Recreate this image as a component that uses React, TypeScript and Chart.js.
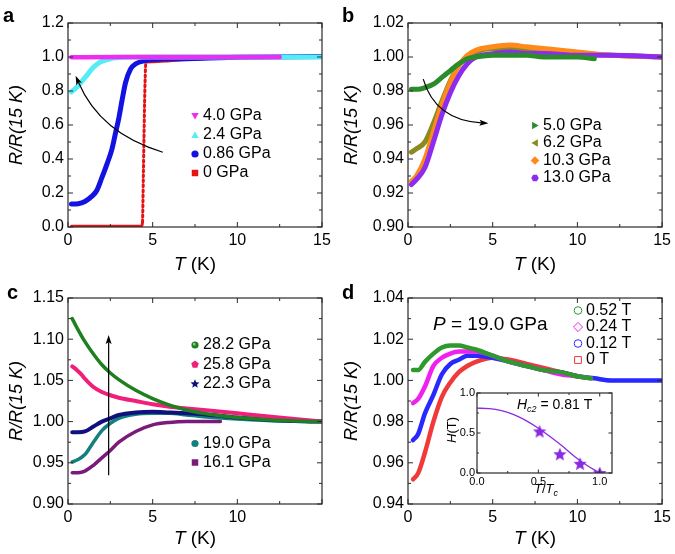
import React, { useEffect, useRef } from 'react';
import { Chart, registerables } from 'chart.js';

Chart.register(...registerables);

const FAMILY = "'Liberation Sans', Arial, Helvetica, sans-serif";
Chart.defaults.font.family = FAMILY;

type Pt = [number, number];

/* ---------------- panel a data ---------------- */
const a_4_0: Pt[] = [[0.2, 0.998], [1, 0.999], [3, 1.0], [6, 1.0], [9, 1.0], [12.5, 1.0]];
const a_2_4: Pt[] = [[0.2, 0.795], [0.5, 0.82], [0.8, 0.855], [1.1, 0.89], [1.5, 0.94], [1.9, 0.97], [2.5, 0.99], [3.3, 0.998], [5, 1.0], [10, 1.0], [15, 1.0]];
const a_0_86: Pt[] = [[0.2, 0.135], [0.6, 0.137], [1.0, 0.15], [1.4, 0.18], [1.7, 0.215], [2.0, 0.29], [2.3, 0.37], [2.6, 0.46], [2.8, 0.55], [3.0, 0.64], [3.2, 0.75], [3.4, 0.85], [3.7, 0.93], [4.0, 0.96], [4.5, 0.978], [5, 0.985], [7, 0.99], [10, 0.998], [15, 1.003]];
const a_0: Pt[] = [[0.2, 0.005], [2, 0.005], [4.35, 0.005], [4.4, 0.03], [4.45, 0.3], [4.5, 0.6], [4.55, 0.85], [4.6, 0.97], [5, 0.972], [6, 0.978], [7, 0.985], [8, 0.99], [10, 0.997], [15, 1.0]];
const aXTicks = [0, 5, 10, 15];
const aXMinor = [2.5, 7.5, 12.5];
const aYTicks = [0, 0.2, 0.4, 0.6, 0.8, 1.0, 1.2];
const aYMinor = [0.1, 0.3, 0.5, 0.7, 0.9, 1.1];

/* ---------------- panel b data ---------------- */
const b_5_0: Pt[] = [[0.2, 0.981], [0.6, 0.981], [1.0, 0.982], [1.5, 0.984], [2.0, 0.988], [2.5, 0.992], [3.0, 0.996], [3.5, 0.999], [4.0, 1.0], [5, 1.001], [6, 1.001], [7, 1.001], [8, 1.0], [9, 1.0], [10, 1.0], [11, 0.999]];
const b_6_2: Pt[] = [[0.2, 0.944], [0.5, 0.946], [1.0, 0.95], [1.5, 0.961], [2.0, 0.974], [2.5, 0.986], [3.0, 0.995], [3.5, 1.0], [4.0, 1.003], [5, 1.005], [6, 1.005], [7, 1.004], [8, 1.003], [10, 1.002], [12, 1.001], [15, 1.0]];
const b_10_3: Pt[] = [[0.2, 0.927], [0.5, 0.93], [1.0, 0.94], [1.5, 0.956], [2.0, 0.972], [2.5, 0.985], [3.0, 0.995], [3.5, 1.001], [4.0, 1.004], [5, 1.006], [6, 1.007], [7, 1.006], [8, 1.005], [10, 1.003], [12, 1.001], [15, 1.0]];
const b_13_0: Pt[] = [[0.2, 0.925], [0.5, 0.928], [1.0, 0.935], [1.5, 0.95], [2.0, 0.966], [2.5, 0.979], [3.0, 0.989], [3.5, 0.996], [4.0, 1.0], [5, 1.002], [6, 1.003], [7, 1.002], [8, 1.002], [10, 1.001], [12, 1.001], [15, 1.0]];
const bXTicks = [0, 5, 10, 15];
const bXMinor = [2.5, 7.5, 12.5];
const bYTicks = [0.9, 0.92, 0.94, 0.96, 0.98, 1.0, 1.02];
const bYMinor = [0.91, 0.93, 0.95, 0.97, 0.99, 1.01];

/* ---------------- panel c data ---------------- */
const c_28_2: Pt[] = [[0.25, 1.125], [0.5, 1.115], [1.0, 1.097], [1.5, 1.082], [2.0, 1.069], [2.5, 1.059], [3, 1.051], [4, 1.038], [5, 1.028], [6, 1.02], [7, 1.014], [8, 1.01], [9, 1.007], [10, 1.005], [12, 1.002], [15, 1.0]];
const c_25_8: Pt[] = [[0.25, 1.067], [0.5, 1.063], [0.8, 1.057], [1.0, 1.052], [1.5, 1.042], [2.0, 1.036], [2.5, 1.032], [3, 1.029], [4, 1.025], [5, 1.021], [6, 1.018], [7, 1.016], [8, 1.014], [10, 1.01], [12, 1.006], [15, 1.0]];
const c_22_3: Pt[] = [[0.25, 0.987], [0.6, 0.987], [1.0, 0.988], [1.5, 0.994], [2.0, 1.0], [2.5, 1.004], [3, 1.008], [4, 1.011], [5, 1.012], [6, 1.011], [7, 1.01], [8, 1.009], [9, 1.007], [10, 1.005], [12, 1.002], [15, 1.0]];
const c_19_0: Pt[] = [[0.25, 0.951], [0.5, 0.953], [1.0, 0.96], [1.5, 0.975], [2.0, 0.989], [2.5, 0.998], [3, 1.004], [4, 1.009], [5, 1.01], [6, 1.01], [7, 1.008], [8, 1.006], [10, 1.003], [12, 1.001], [15, 1.0]];
const c_16_1: Pt[] = [[0.25, 0.938], [0.6, 0.938], [1.0, 0.94], [1.5, 0.947], [2.0, 0.956], [2.5, 0.965], [3, 0.975], [4, 0.988], [5, 0.996], [6, 0.999], [7, 1.0], [9, 1.0]];
const cXTicks = [0, 5, 10, 15];
const cXMinor = [2.5, 7.5, 12.5];
const cYTicks = [0.9, 0.95, 1.0, 1.05, 1.1, 1.15];
const cYMinor = [0.925, 0.975, 1.025, 1.075, 1.125];

/* ---------------- panel d data ---------------- */
const d_0_52: Pt[] = [[0.3, 1.005], [0.6, 1.005], [1.0, 1.009], [1.5, 1.013], [2.0, 1.016], [2.5, 1.017], [3, 1.017], [3.5, 1.016], [4, 1.015], [5, 1.012], [6, 1.009], [7, 1.007], [8, 1.005], [9, 1.004], [10, 1.002], [10.8, 1.001]];
const d_0_24: Pt[] = [[0.3, 0.989], [0.6, 0.991], [1.0, 0.997], [1.5, 1.007], [2.0, 1.011], [2.5, 1.013], [3, 1.014], [4, 1.014], [5, 1.012], [6, 1.009], [7, 1.007], [8, 1.005], [9, 1.003], [10, 1.002], [10.8, 1.001]];
const d_0_12: Pt[] = [[0.3, 0.971], [0.6, 0.974], [1.0, 0.984], [1.5, 0.993], [2.0, 1.003], [2.5, 1.008], [3, 1.01], [3.5, 1.012], [4, 1.012], [5, 1.011], [6, 1.009], [7, 1.007], [8, 1.005], [9, 1.004], [10, 1.002], [11, 1.001], [12, 1.0], [15, 1.0]];
const d_0: Pt[] = [[0.3, 0.952], [0.6, 0.955], [1.0, 0.965], [1.5, 0.98], [2.0, 0.992], [2.5, 0.999], [3, 1.004], [3.5, 1.007], [4, 1.009], [5, 1.011], [6, 1.01], [7, 1.008], [8, 1.006], [9, 1.004], [10, 1.002]];
const dXTicks = [0, 5, 10, 15];
const dXMinor = [2.5, 7.5, 12.5];
const dYTicks = [0.94, 0.96, 0.98, 1.0, 1.02, 1.04];
const dYMinor = [0.95, 0.97, 0.99, 1.01, 1.03];

/* ---------------- inset data ---------------- */
const insetFit: Pt[] = [[0, 0.81], [0.1, 0.805], [0.2, 0.78], [0.3, 0.73], [0.4, 0.655], [0.5, 0.56], [0.6, 0.45], [0.7, 0.33], [0.8, 0.2], [0.9, 0.09], [1.0, 0.0], [1.04, -0.04]];
const insetStars: Pt[] = [[0.51, 0.52], [0.675, 0.235], [0.84, 0.115], [1.0, 0.0]];
const insetXTicks = [0, 0.5, 1.0];
const insetXMinor = [0.25, 0.75];
const insetYTicks = [0, 0.5, 1.0];
const insetYMinor = [0.25, 0.75];

/* ---------------- drawing helpers ---------------- */
type Run = { t: string; i?: boolean; b?: boolean; s: number; dy?: number };
const fontOf = (r: Run) => `${r.i ? 'italic ' : ''}${r.b ? 'bold ' : ''}${r.s}px ${FAMILY}`;

function drawRuns(ctx: CanvasRenderingContext2D, runs: Run[], x: number, y: number, align: 'left' | 'center', rot = 0, color = '#000') {
  ctx.save();
  ctx.translate(x, y);
  if (rot) ctx.rotate(rot);
  ctx.fillStyle = color;
  ctx.textBaseline = 'middle';
  ctx.textAlign = 'left';
  const widths = runs.map((r) => { ctx.font = fontOf(r); return ctx.measureText(r.t).width; });
  const total = widths.reduce((p, q) => p + q, 0);
  let cx = align === 'left' ? 0 : -total / 2;
  runs.forEach((r, k) => { ctx.font = fontOf(r); ctx.fillText(r.t, cx, r.dy || 0); cx += widths[k]; });
  ctx.restore();
}

function poly(ctx: CanvasRenderingContext2D, x: number, y: number, r: number, n: number, start: number, inner = 0) {
  const m = inner ? n * 2 : n;
  for (let k = 0; k < m; k++) {
    const ang = (start + (360 / m) * k) * Math.PI / 180;
    const rr = inner && k % 2 === 1 ? r * inner : r;
    const px = x + rr * Math.cos(ang), py = y + rr * Math.sin(ang);
    if (k === 0) ctx.moveTo(px, py); else ctx.lineTo(px, py);
  }
  ctx.closePath();
}

function drawMarker(ctx: CanvasRenderingContext2D, shape: string, x: number, y: number, r: number, color: string, hollow = false) {
  ctx.save();
  ctx.beginPath();
  switch (shape) {
    case 'circle': case 'sphere': ctx.arc(x, y, r, 0, Math.PI * 2); break;
    case 'square': ctx.rect(x - r * 0.9, y - r * 0.9, r * 1.8, r * 1.8); break;
    case 'diamond': poly(ctx, x, y, r * 1.2, 4, -90); break;
    case 'triUp': poly(ctx, x, y + r * 0.2, r * 1.2, 3, -90); break;
    case 'triDown': poly(ctx, x, y - r * 0.2, r * 1.2, 3, 90); break;
    case 'triRight': poly(ctx, x - r * 0.2, y, r * 1.2, 3, 0); break;
    case 'triLeft': poly(ctx, x + r * 0.2, y, r * 1.2, 3, 180); break;
    case 'hexagon': poly(ctx, x, y, r * 1.05, 6, 0); break;
    case 'pentagon': poly(ctx, x, y, r * 1.1, 5, -90); break;
    case 'star': poly(ctx, x, y, r * 1.3, 5, -90, 0.45); break;
  }
  if (hollow) {
    ctx.lineWidth = 1;
    ctx.strokeStyle = color;
    ctx.stroke();
  } else if (shape === 'sphere') {
    const g = ctx.createRadialGradient(x - r * 0.35, y - r * 0.35, 0, x, y, r);
    g.addColorStop(0, '#d8f0d8');
    g.addColorStop(0.5, color);
    g.addColorStop(1, color);
    ctx.fillStyle = g;
    ctx.fill();
  } else {
    ctx.fillStyle = color;
    ctx.fill();
  }
  ctx.restore();
}

/* ---------------- panel definitions ---------------- */
interface Series { label: string; color: string; shape: string; hollow?: boolean; data: Pt[]; width: number; z: number; dashJump?: boolean }
interface Axis { min: number; max: number; ticks: number[]; minor: number[]; digits: number; hideLast?: boolean }
interface PanelDef {
  key: string; left: number; top: number; w: number; h: number;
  area: { l: number; r: number; t: number; b: number };
  x: Axis; y: Axis;
  tickFont: number; tickPad: number; majorLen: number; minorLen: number;
  series: Series[];
  legend?: { mx: number; tx: number; rows: number[]; font: number; r: number };
  letter?: string; letterPos?: Pt; xTitlePos?: Pt; yTitlePos?: Pt;
  arrow?: { p0: Pt; c?: Pt; p1: Pt };
  extra?: (ctx: CanvasRenderingContext2D, chart: any) => void;
  points?: { data: Pt[]; color: string };
}

const PANELS: PanelDef[] = [
  {
    key: 'a', left: 0, top: 0, w: 337, h: 277,
    area: { l: 68, r: 322, t: 23, b: 227 },
    x: { min: 0, max: 15, ticks: aXTicks, minor: aXMinor, digits: 0 },
    y: { min: 0, max: 1.2, ticks: aYTicks, minor: aYMinor, digits: 1 },
    tickFont: 16, tickPad: 4, majorLen: 5, minorLen: 3,
    series: [
      { label: '4.0 GPa', color: '#f02cf0', shape: 'triDown', data: a_4_0, width: 4.5, z: 0 },
      { label: '2.4 GPa', color: '#55edf5', shape: 'triUp', data: a_2_4, width: 5, z: 1 },
      { label: '0.86 GPa', color: '#1212e2', shape: 'circle', data: a_0_86, width: 5, z: 2 },
      { label: '0 GPa', color: '#e41414', shape: 'square', data: a_0, width: 3, z: 3, dashJump: true },
    ],
    legend: { mx: 195, tx: 203, rows: [116, 135, 154, 173], font: 16, r: 3.6 },
    letter: 'a', letterPos: [3, 16], xTitlePos: [195, 265], yTitlePos: [17, 125],
    arrow: { p0: [5.6, 0.44], c: [1.9, 0.55], p1: [0.45, 0.89] },
  },
  {
    key: 'b', left: 337, top: 0, w: 338, h: 277,
    area: { l: 71, r: 326, t: 23, b: 227 },
    x: { min: 0, max: 15, ticks: bXTicks, minor: bXMinor, digits: 0 },
    y: { min: 0.9, max: 1.02, ticks: bYTicks, minor: bYMinor, digits: 2 },
    tickFont: 16, tickPad: 4, majorLen: 5, minorLen: 3,
    series: [
      { label: '5.0 GPa', color: '#2a8c2a', shape: 'triRight', data: b_5_0, width: 5, z: 0 },
      { label: '6.2 GPa', color: '#8a8a1e', shape: 'triLeft', data: b_6_2, width: 5, z: 3 },
      { label: '10.3 GPa', color: '#ff8a1a', shape: 'diamond', data: b_10_3, width: 5, z: 2 },
      { label: '13.0 GPa', color: '#8b2cf0', shape: 'hexagon', data: b_13_0, width: 5, z: 1 },
    ],
    legend: { mx: 198, tx: 206, rows: [125.5, 143, 160.5, 178], font: 16, r: 3.6 },
    letter: 'b', letterPos: [5, 16], xTitlePos: [198, 265], yTitlePos: [15, 125],
    arrow: { p0: [0.9, 0.987], c: [1.6, 0.963], p1: [4.75, 0.961] },
  },
  {
    key: 'c', left: 0, top: 277, w: 337, h: 277,
    area: { l: 68, r: 322, t: 21, b: 227 },
    x: { min: 0, max: 15, ticks: cXTicks, minor: cXMinor, digits: 0, hideLast: true },
    y: { min: 0.9, max: 1.15, ticks: cYTicks, minor: cYMinor, digits: 2 },
    tickFont: 16, tickPad: 4, majorLen: 5, minorLen: 3,
    series: [
      { label: '28.2 GPa', color: '#1f801f', shape: 'sphere', data: c_28_2, width: 3.5, z: 0 },
      { label: '25.8 GPa', color: '#f0207a', shape: 'pentagon', data: c_25_8, width: 4, z: 1 },
      { label: '22.3 GPa', color: '#10107e', shape: 'star', data: c_22_3, width: 4, z: 2 },
      { label: '19.0 GPa', color: '#128080', shape: 'circle', data: c_19_0, width: 3.5, z: 3 },
      { label: '16.1 GPa', color: '#7a1a7a', shape: 'square', data: c_16_1, width: 3.5, z: 4 },
    ],
    legend: { mx: 195, tx: 203, rows: [68, 87.5, 107, 166.5, 185.5], font: 16, r: 3.6 },
    letter: 'c', letterPos: [7, 16], xTitlePos: [195, 262], yTitlePos: [17, 124],
    arrow: { p0: [2.4, 0.935], p1: [2.4, 1.105] },
  },
  {
    key: 'd', left: 337, top: 277, w: 338, h: 277,
    area: { l: 71, r: 326, t: 21, b: 227 },
    x: { min: 0, max: 15, ticks: dXTicks, minor: dXMinor, digits: 0 },
    y: { min: 0.94, max: 1.04, ticks: dYTicks, minor: dYMinor, digits: 2 },
    tickFont: 16, tickPad: 4, majorLen: 5, minorLen: 3,
    series: [
      { label: '0.52 T', color: '#2e9a2e', shape: 'circle', hollow: true, data: d_0_52, width: 4.5, z: 0 },
      { label: '0.24 T', color: '#f020f0', shape: 'diamond', hollow: true, data: d_0_24, width: 4.5, z: 1 },
      { label: '0.12 T', color: '#2828ff', shape: 'circle', hollow: true, data: d_0_12, width: 4.5, z: 2 },
      { label: '0 T', color: '#f03a3a', shape: 'square', hollow: true, data: d_0, width: 4.5, z: 3 },
    ],
    legend: { mx: 241, tx: 249, rows: [33.5, 50, 66.5, 83], font: 16, r: 3.8 },
    letter: 'd', letterPos: [5, 16], xTitlePos: [198, 262], yTitlePos: [15, 124],
    extra: (ctx) => {
      drawRuns(ctx, [{ t: 'P', i: true, s: 19 }, { t: ' = 19.0 GPa', s: 19 }], 96, 48, 'left');
    },
  },
];

const INSET: PanelDef = {
  key: 'inset', left: 430, top: 380, w: 200, h: 125,
  area: { l: 47, r: 182, t: 13, b: 93 },
  x: { min: 0, max: 1.1, ticks: insetXTicks, minor: insetXMinor, digits: 1 },
  y: { min: 0, max: 1.0, ticks: insetYTicks, minor: insetYMinor, digits: 1 },
  tickFont: 11, tickPad: 2, majorLen: 3.5, minorLen: 2,
  series: [
    { label: 'fit', color: '#8a2be2', shape: 'none', data: insetFit, width: 1.3, z: 1 },
  ],
  points: { data: insetStars, color: '#8a2be2' },
  extra: (ctx) => {
    drawRuns(ctx, [{ t: 'H', i: true, s: 13 }, { t: '(T)', s: 13 }], 22, 50, 'center', -Math.PI / 2);
    drawRuns(ctx, [{ t: 'T', i: true, s: 13 }, { t: '/', s: 13 }, { t: 'T', i: true, s: 13 }, { t: 'c', i: true, s: 9, dy: 4 }], 116, 109, 'center');
    drawRuns(ctx, [{ t: 'H', i: true, s: 14 }, { t: 'c2', i: true, s: 9, dy: 4 }, { t: ' = 0.81 T', s: 14 }], 87, 25, 'left');
  },
};

function starCanvas(color: string, r: number) {
  const c = document.createElement('canvas');
  const size = Math.ceil(r * 2 + 2);
  c.width = size; c.height = size;
  const ctx = c.getContext('2d')!;
  ctx.beginPath();
  poly(ctx, size / 2, size / 2 + 0.5, r, 5, -90, 0.45);
  ctx.fillStyle = color;
  ctx.fill();
  return c;
}

function buildConfig(p: PanelDef): any {
  const datasets: any[] = p.series.map((s) => ({
    label: s.label,
    data: s.data.map(([x, y]) => ({ x, y })),
    showLine: true,
    borderColor: s.color,
    backgroundColor: s.color,
    borderWidth: s.width,
    borderCapStyle: 'round',
    borderJoinStyle: 'round',
    pointRadius: 0,
    cubicInterpolationMode: 'monotone',
    order: s.z,
    clip: 0,
    segment: s.dashJump
      ? { borderDash: (c: any) => (Math.abs(c.p1.parsed.y - c.p0.parsed.y) > 0.1 ? [2, 3] : undefined) }
      : undefined,
  }));
  if (p.points) {
    datasets.unshift({
      label: 'points',
      data: p.points.data.map(([x, y]) => ({ x, y })),
      showLine: false,
      pointStyle: starCanvas(p.points.color, 7),
      pointRadius: 7,
      order: 0,
      clip: 0,
    });
  }
  const tickCb = (ax: Axis) => (v: any) => {
    const n = Number(v);
    if (ax.hideLast && Math.abs(n - ax.max) < 1e-9) return '';
    return n.toFixed(ax.digits);
  };
  const deco = {
    id: 'deco_' + p.key,
    afterDraw(chart: any) {
      const { ctx, chartArea: a } = chart;
      const xs = chart.scales.x, ys = chart.scales.y;
      ctx.save();
      ctx.strokeStyle = '#2a2a2a';
      ctx.lineWidth = 1.2;
      ctx.strokeRect(a.left, a.top, a.right - a.left, a.bottom - a.top);
      ctx.lineWidth = 1;
      ctx.beginPath();
      const xt = (vals: number[], len: number) => vals.forEach((v) => {
        const px = xs.getPixelForValue(v);
        ctx.moveTo(px, a.bottom); ctx.lineTo(px, a.bottom - len);
        ctx.moveTo(px, a.top); ctx.lineTo(px, a.top + len);
      });
      const yt = (vals: number[], len: number) => vals.forEach((v) => {
        const py = ys.getPixelForValue(v);
        ctx.moveTo(a.left, py); ctx.lineTo(a.left + len, py);
        ctx.moveTo(a.right, py); ctx.lineTo(a.right - len, py);
      });
      xt(p.x.ticks, p.majorLen); xt(p.x.minor, p.minorLen);
      yt(p.y.ticks, p.majorLen); yt(p.y.minor, p.minorLen);
      ctx.stroke();

      if (p.legend) {
        const L = p.legend;
        p.series.forEach((s, k) => {
          const yy = L.rows[k];
          drawMarker(ctx, s.shape, L.mx, yy, L.r, s.color, s.hollow);
          drawRuns(ctx, [{ t: s.label, s: L.font }], L.tx, yy, 'left');
        });
      }
      if (p.arrow) {
        const A = p.arrow;
        const P0 = [xs.getPixelForValue(A.p0[0]), ys.getPixelForValue(A.p0[1])];
        const P1 = [xs.getPixelForValue(A.p1[0]), ys.getPixelForValue(A.p1[1])];
        const C = A.c ? [xs.getPixelForValue(A.c[0]), ys.getPixelForValue(A.c[1])] : P0;
        const ang = Math.atan2(P1[1] - C[1], P1[0] - C[0]);
        const hl = 9, hw = 3;
        const bx = P1[0] - hl * 0.8 * Math.cos(ang), by = P1[1] - hl * 0.8 * Math.sin(ang);
        ctx.strokeStyle = '#000';
        ctx.lineWidth = 1.2;
        ctx.beginPath();
        ctx.moveTo(P0[0], P0[1]);
        if (A.c) ctx.quadraticCurveTo(C[0], C[1], bx, by); else ctx.lineTo(bx, by);
        ctx.stroke();
        ctx.fillStyle = '#000';
        ctx.beginPath();
        ctx.moveTo(P1[0], P1[1]);
        ctx.lineTo(P1[0] - hl * Math.cos(ang) + hw * Math.sin(ang), P1[1] - hl * Math.sin(ang) - hw * Math.cos(ang));
        ctx.lineTo(bx, by);
        ctx.lineTo(P1[0] - hl * Math.cos(ang) - hw * Math.sin(ang), P1[1] - hl * Math.sin(ang) + hw * Math.cos(ang));
        ctx.closePath();
        ctx.fill();
      }
      if (p.letter && p.letterPos) {
        drawRuns(ctx, [{ t: p.letter, b: true, s: 20 }], p.letterPos[0], p.letterPos[1], 'left');
      }
      if (p.xTitlePos) {
        drawRuns(ctx, [{ t: 'T', i: true, s: 19 }, { t: ' (K)', s: 19 }], p.xTitlePos[0], p.xTitlePos[1], 'center');
      }
      if (p.yTitlePos) {
        drawRuns(ctx, [{ t: 'R/R(15 K)', i: true, s: 18 }], p.yTitlePos[0], p.yTitlePos[1], 'center', -Math.PI / 2);
      }
      if (p.extra) p.extra(ctx, chart);
      ctx.restore();
    },
  };
  const scale = (ax: Axis, isX: boolean) => ({
    type: 'linear',
    min: ax.min,
    max: ax.max,
    afterBuildTicks: (s: any) => { s.ticks = ax.ticks.map((v) => ({ value: v })); },
    ticks: {
      autoSkip: false,
      maxRotation: 0,
      padding: p.tickPad,
      color: '#000',
      font: { size: p.tickFont, family: FAMILY },
      callback: tickCb(ax),
    },
    grid: { display: false, drawTicks: false },
    border: { display: false },
    afterFit: (s: any) => {
      if (isX) s.height = p.h - p.area.b; else s.width = p.area.l;
    },
  });
  return {
    type: 'scatter',
    data: { datasets },
    options: {
      animation: false,
      responsive: false,
      maintainAspectRatio: false,
      layout: { padding: { left: 0, top: p.area.t, right: p.w - p.area.r, bottom: 0 } },
      plugins: { legend: { display: false }, tooltip: { enabled: false } },
      events: [],
      scales: { x: scale(p.x, true), y: scale(p.y, false) },
    },
    plugins: [deco],
  };
}

function PanelChart({ def }: { def: PanelDef }) {
  const ref = useRef<HTMLCanvasElement>(null);
  useEffect(() => {
    const chart = new Chart(ref.current as HTMLCanvasElement, buildConfig(def));
    return () => chart.destroy();
  }, [def]);
  return (
    <canvas
      ref={ref}
      width={def.w}
      height={def.h}
      style={{ position: 'absolute', left: def.left, top: def.top, width: def.w, height: def.h }}
    />
  );
}

export default function App() {
  return (
    <div style={{ position: 'absolute', left: 0, top: 0, width: 675, height: 554, background: '#fff', overflow: 'hidden' }}>
      {PANELS.map((p) => <PanelChart key={p.key} def={p} />)}
      <PanelChart def={INSET} />
    </div>
  );
}
